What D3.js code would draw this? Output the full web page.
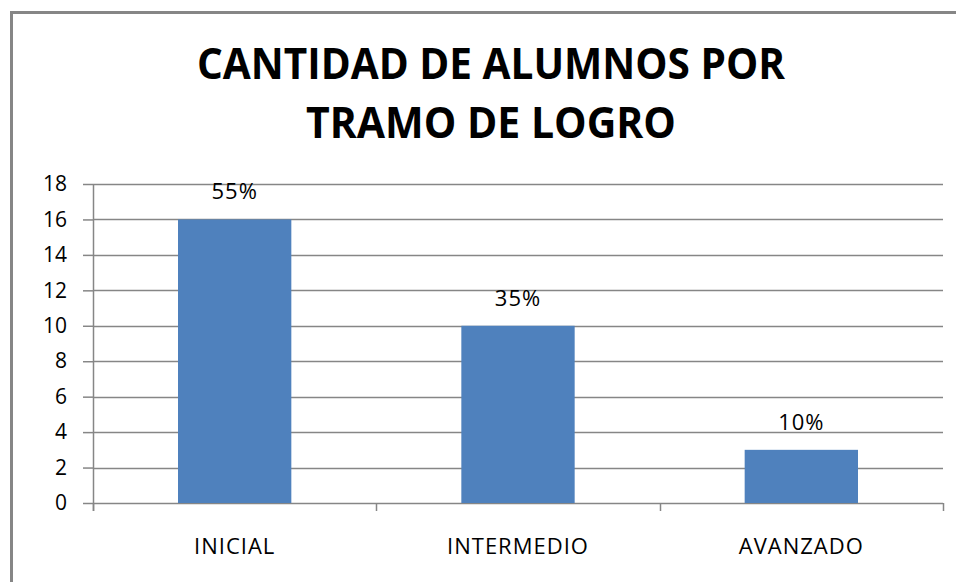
<!DOCTYPE html>
<html>
<head>
<meta charset="utf-8">
<script src="https://cdn.jsdelivr.net/npm/d3@7"></script>
<style>
    body { margin: 0; background: #ffffff; }
    svg { display: block; }
</style>
</head>
<body>
<div id="chart"></div>
<script>
// Data
const categories = ['INICIAL', 'INTERMEDIO', 'AVANZADO'];
const alumnos = [16, 10, 3];
const porcentajes = ['55%', '35%', '10%'];
const yTicks = [0, 2, 4, 6, 8, 10, 12, 14, 16, 18];
const titleLines = ['CANTIDAD DE ALUMNOS POR', 'TRAMO DE LOGRO'];

const WIDTH = 956;
const HEIGHT = 582;
const BAR_COLOR = '#4F81BD';
const GRID_COLOR = '#868686';
const FONT = '"Open Sans", "DejaVu Sans", sans-serif';

const margin = { top: 184, right: 13, bottom: 79, left: 93 };
const plotW = WIDTH - margin.left - margin.right;
const plotH = HEIGHT - margin.top - margin.bottom;

const svg = d3.select('#chart')
    .append('svg')
    .attr('width', WIDTH)
    .attr('height', HEIGHT);

// Chart frame (cut off on the right and bottom like the original)
svg.append('rect')
    .attr('x', 11.5)
    .attr('y', 12.5)
    .attr('width', 1200)
    .attr('height', 1200)
    .style('fill', '#ffffff')
    .style('stroke', GRID_COLOR)
    .style('stroke-width', 3);

// Title
svg.append('g')
    .selectAll('text')
    .data(titleLines)
    .join('text')
    .attr('x', 491)
    .attr('y', (d, i) => 79 + i * 59)
    .attr('text-anchor', 'middle')
    .attr('textLength', (d, i) => i === 0 ? 588 : 370)
    .attr('lengthAdjust', 'spacingAndGlyphs')
    .style('font-family', FONT)
    .style('font-weight', 'bold')
    .style('font-size', '43px')
    .style('fill', '#000')
    .text(d => d);

const g = svg.append('g')
    .attr('transform', `translate(${margin.left},${margin.top})`);

const x = d3.scaleBand()
    .domain(categories)
    .range([0, plotW])
    .paddingInner(0.6)
    .paddingOuter(0.3);

const y = d3.scaleLinear()
    .domain([0, 18])
    .range([plotH, 0]);

// Gridlines + y axis
const yAxis = d3.axisLeft(y)
    .tickValues(yTicks)
    .tickSize(10)
    .tickPadding(16)
    .tickFormat(d3.format('d'));

g.append('g')
    .attr('class', 'y-grid')
    .selectAll('line')
    .data(yTicks)
    .join('line')
    .attr('x1', 0)
    .attr('x2', plotW)
    .attr('y1', d => Math.round(y(d)) + 0.5)
    .attr('y2', d => Math.round(y(d)) + 0.5)
    .style('stroke', GRID_COLOR)
    .style('stroke-width', 1.5);

const yG = g.append('g')
    .call(yAxis);
yG.select('.domain').remove();
yG.selectAll('.tick line')
    .style('stroke', GRID_COLOR)
    .style('stroke-width', 1.5);
yG.selectAll('.tick text')
    .style('font-family', FONT)
    .style('font-size', '21px')
    .style('fill', '#000');

// Vertical axis line
g.append('line')
    .attr('x1', 0.5).attr('x2', 0.5)
    .attr('y1', 0).attr('y2', plotH + 8)
    .style('stroke', GRID_COLOR)
    .style('stroke-width', 1.5);

// Bars
g.append('g')
    .selectAll('rect')
    .data(alumnos)
    .join('rect')
    .attr('x', (d, i) => x(categories[i]))
    .attr('y', d => y(d))
    .attr('width', x.bandwidth())
    .attr('height', d => plotH - y(d))
    .style('fill', BAR_COLOR);

// Category tick marks at band boundaries
const boundaries = d3.range(categories.length + 1).map(i => i * plotW / categories.length);
g.append('g')
    .selectAll('line')
    .data(boundaries)
    .join('line')
    .attr('x1', d => Math.round(d) + 0.5)
    .attr('x2', d => Math.round(d) + 0.5)
    .attr('y1', plotH)
    .attr('y2', plotH + 8)
    .style('stroke', GRID_COLOR)
    .style('stroke-width', 1.5);

// Category labels
g.append('g')
    .selectAll('text')
    .data(categories)
    .join('text')
    .attr('x', d => x(d) + x.bandwidth() / 2)
    .attr('y', plotH + 51)
    .attr('text-anchor', 'middle')
    .style('font-family', FONT)
    .style('font-size', '22px')
    .style('letter-spacing', '1px')
    .style('fill', '#000')
    .text(d => d);

// Percentage labels
g.append('g')
    .selectAll('text')
    .data(alumnos)
    .join('text')
    .attr('x', (d, i) => x(categories[i]) + x.bandwidth() / 2)
    .attr('y', d => y(d) - 20)
    .attr('text-anchor', 'middle')
    .style('font-family', FONT)
    .style('font-size', '22px')
    .style('letter-spacing', '1px')
    .style('fill', '#000')
    .text((d, i) => porcentajes[i]);
</script>
</body>
</html>
